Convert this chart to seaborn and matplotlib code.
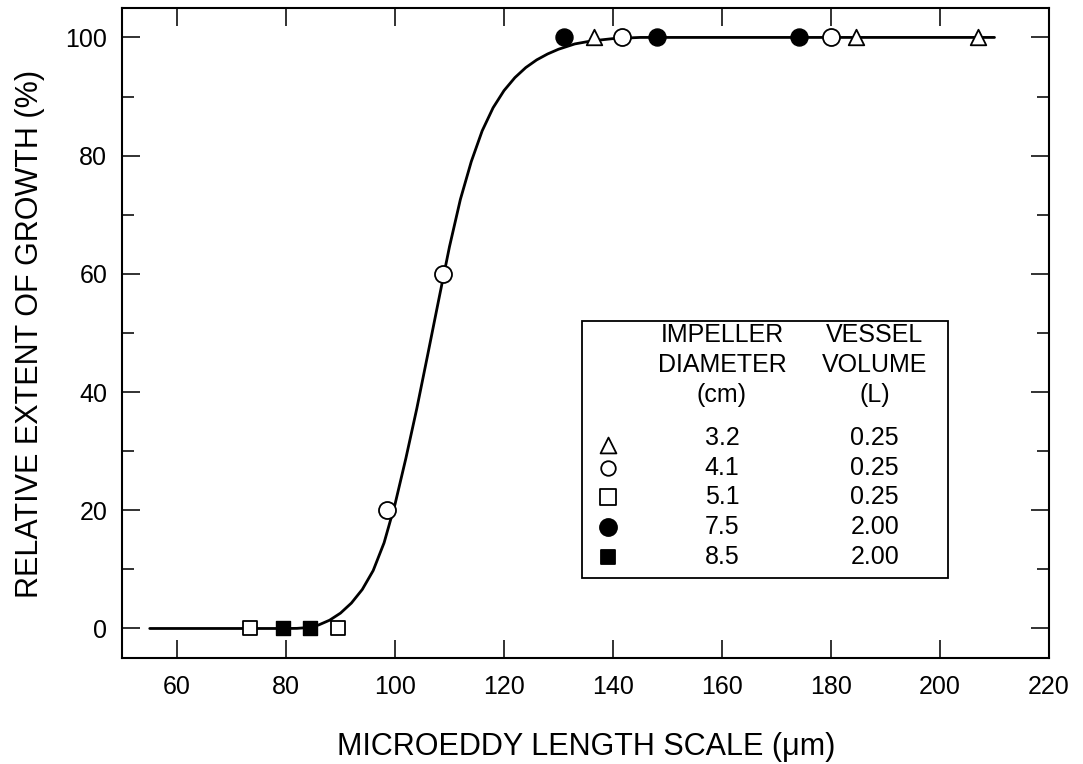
import numpy as np
import pandas as pd
import matplotlib
matplotlib.use("Agg")
import matplotlib.pyplot as plt
import seaborn as sns
from matplotlib.patches import Rectangle
from matplotlib.ticker import MultipleLocator

# measured points, one list per impeller
tri_x = [136.5, 184.5, 207.0]      # 3.2 cm / 0.25 L
tri_y = [100, 100, 100]
circ_x = [98.5, 108.8, 141.6, 180.0]   # 4.1 cm / 0.25 L
circ_y = [20, 60, 100, 100]
sq_x = [73.4, 89.6]                # 5.1 cm / 0.25 L
sq_y = [0, 0]
fcirc_x = [131.0, 148.0, 174.2]    # 7.5 cm / 2.00 L
fcirc_y = [100, 100, 100]
fsq_x = [79.4, 84.4]               # 8.5 cm / 2.00 L
fsq_y = [0, 0]

# fitted curve
curve_x = [55, 80, 82, 84, 86, 88, 90, 92, 94, 96, 98, 100, 102, 104, 106,
           108, 110, 112, 114, 116, 118, 120, 122, 124, 126, 128, 130, 133,
           136, 140, 145, 210]
curve_y = [0, 0, 0.02, 0.15, 0.6, 1.4, 2.6, 4.3, 6.6, 9.8, 14.5, 21.0, 28.8,
           37.2, 46.3, 55.5, 64.6, 72.6, 79.0, 84.2, 88.1, 91.0, 93.2, 94.9,
           96.2, 97.2, 98.0, 98.9, 99.4, 99.8, 100, 100]

diam_labels = ["3.2", "4.1", "5.1", "7.5", "8.5"]
vol_labels = ["0.25", "0.25", "0.25", "2.00", "2.00"]

sns.set_theme(style="ticks")
plt.rcParams["font.family"] = ["Liberation Sans", "DejaVu Sans"]
plt.rcParams["text.color"] = "black"
plt.rcParams["axes.labelcolor"] = "black"

fig = plt.figure(figsize=(10.83, 7.64), dpi=100)
ax = fig.add_axes([0.1131, 0.1387, 0.8555, 0.851])

curve = pd.DataFrame({"x": curve_x, "y": curve_y})
sns.lineplot(data=curve, x="x", y="y", ax=ax, color="black", lw=2.0,
             sort=False, estimator=None)

open_kw = dict(facecolor="white", edgecolor="black", linewidth=1.3, zorder=3)
fill_kw = dict(facecolor="black", edgecolor="black", linewidth=1.0, zorder=3)
sns.scatterplot(x=tri_x, y=tri_y, marker="^", s=125, ax=ax, **open_kw)
sns.scatterplot(x=circ_x, y=circ_y, marker="o", s=150, ax=ax, **open_kw)
sns.scatterplot(x=sq_x, y=sq_y, marker="s", s=105, ax=ax, **open_kw)
sns.scatterplot(x=fcirc_x, y=fcirc_y, marker="o", s=150, ax=ax, **fill_kw)
sns.scatterplot(x=fsq_x, y=fsq_y, marker="s", s=105, ax=ax, **fill_kw)

ax.set_xlim(50, 220)
ax.set_ylim(-5, 105)
ax.set_xticks(np.arange(60, 221, 20))
ax.set_yticks(np.arange(0, 101, 20))
ax.yaxis.set_minor_locator(MultipleLocator(10))
ax.tick_params(which="both", direction="in", top=True, right=True,
               width=1.3, color="#222222")
ax.tick_params(which="major", length=13, labelsize=18, labelcolor="black")
ax.tick_params(axis="x", which="major", pad=12)
ax.tick_params(axis="y", which="major", pad=11)
ax.tick_params(which="minor", length=8.5)
for sp in ax.spines.values():
    sp.set_linewidth(1.5)
    sp.set_visible(True)
    sp.set_color("black")

ax.set_xlabel("MICROEDDY LENGTH SCALE (\u03bcm)", fontsize=22, va="baseline")
ax.set_ylabel("RELATIVE EXTENT OF GROWTH (%)", fontsize=22, va="baseline")
ax.xaxis.set_label_coords(0.5, -0.149)
ax.yaxis.set_label_coords(-0.0912, 0.498)

# legend table
ax.add_patch(Rectangle((0.496, 0.123), 0.395, 0.395, transform=ax.transAxes,
                       facecolor="white", edgecolor="black", lw=1.3, zorder=5))
c1, c2 = 0.647, 0.812
for txt, yy in [("IMPELLER", 0.497), ("DIAMETER", 0.451), ("(cm)", 0.405)]:
    ax.text(c1, yy, txt, transform=ax.transAxes, ha="center", va="center",
            fontsize=18, zorder=6)
for txt, yy in [("VESSEL", 0.497), ("VOLUME", 0.451), ("(L)", 0.405)]:
    ax.text(c2, yy, txt, transform=ax.transAxes, ha="center", va="center",
            fontsize=18, zorder=6)
row_y = [0.338, 0.292, 0.247, 0.201, 0.155]
marks = [("^", "white", 130), ("o", "white", 110), ("s", "white", 120),
         ("o", "black", 150), ("s", "black", 115)]
for yy, d, v, (m, fc, sz) in zip(row_y, diam_labels, vol_labels, marks):
    ax.text(c1, yy, d, transform=ax.transAxes, ha="center", va="center",
            fontsize=18, zorder=6)
    ax.text(c2, yy, v, transform=ax.transAxes, ha="center", va="center",
            fontsize=18, zorder=6)
    ax.scatter([0.524], [yy - (0.01 if m == "^" else 0)], marker=m, s=sz,
               facecolor=fc, edgecolor="black", linewidth=1.3,
               transform=ax.transAxes, zorder=6, clip_on=False)

fig.savefig("out.png", dpi=100)
